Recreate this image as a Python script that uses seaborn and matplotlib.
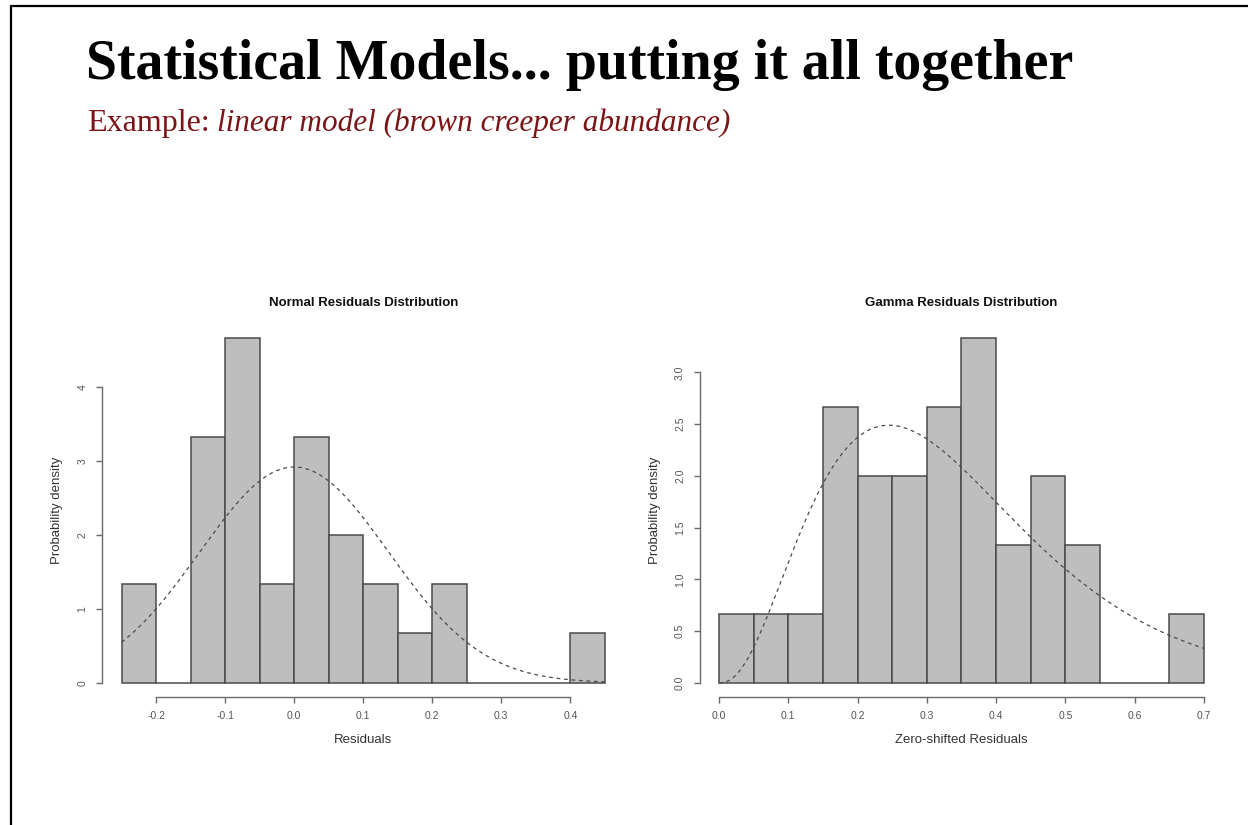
import math
import numpy as np
import pandas as pd
import matplotlib
matplotlib.use("Agg")
import matplotlib.pyplot as plt
import seaborn as sns
from matplotlib.lines import Line2D

# ---- data -------------------------------------------------------------
# Normal-model residuals: histogram bins and densities
normal_edges = [-0.25, -0.20, -0.15, -0.10, -0.05, 0.00, 0.05,
                0.10, 0.15, 0.20, 0.25, 0.30, 0.35, 0.40, 0.45]
normal_density = [1.333, 0.0, 3.333, 4.667, 1.333, 3.333, 2.0,
                  1.333, 0.667, 1.333, 0.0, 0.0, 0.0, 0.667]
normal_mean = 0.0
normal_sd = 0.1366
normal_xticks = [-0.2, -0.1, 0.0, 0.1, 0.2, 0.3, 0.4]
normal_xticklabels = ["-0.2", "-0.1", "0.0", "0.1", "0.2", "0.3", "0.4"]
normal_yticks = [0, 1, 2, 3, 4]
normal_yticklabels = ["0", "1", "2", "3", "4"]

# Zero-shifted residuals: histogram bins and densities, gamma fit
gamma_edges = [0.00, 0.05, 0.10, 0.15, 0.20, 0.25, 0.30, 0.35,
               0.40, 0.45, 0.50, 0.55, 0.60, 0.65, 0.70]
gamma_density = [0.667, 0.667, 0.667, 2.667, 2.0, 2.0, 2.667,
                 3.333, 1.333, 2.0, 1.333, 0.0, 0.0, 0.667]
gamma_shape = 3.5
gamma_rate = 10.2
gamma_xticks = [0.0, 0.1, 0.2, 0.3, 0.4, 0.5, 0.6, 0.7]
gamma_xticklabels = ["0.0", "0.1", "0.2", "0.3", "0.4", "0.5", "0.6", "0.7"]
gamma_yticks = [0.0, 0.5, 1.0, 1.5, 2.0, 2.5, 3.0]
gamma_yticklabels = ["0.0", "0.5", "1.0", "1.5", "2.0", "2.5", "3.0"]

slide_title = "Statistical Models... putting it all together"
subtitle_lead = "Example:"
subtitle_rest = "linear model (brown creeper abundance)"


def normal_pdf(x, mu, sd):
    return np.exp(-0.5 * ((x - mu) / sd) ** 2) / (sd * math.sqrt(2 * math.pi))


def gamma_pdf(x, k, rate):
    x = np.asarray(x, dtype=float)
    out = np.zeros_like(x)
    pos = x > 0
    out[pos] = np.exp(k * math.log(rate) + (k - 1) * np.log(x[pos])
                      - rate * x[pos] - math.lgamma(k))
    return out


# ---- style ------------------------------------------------------------
sns.set_style("white")
plt.rcParams["font.family"] = ["Liberation Sans", "DejaVu Sans"]
plt.rcParams["axes.unicode_minus"] = False

BAR = "#bebebe"
EDGE = "#4a4a4a"
AXC = "#6a6a6a"
TXT = "#555555"

fig = plt.figure(figsize=(12.48, 8.25), dpi=100)
fig.patch.set_facecolor("white")

W, H = 1248.0, 825.0
ax_l = fig.add_axes([102.2 / W, 1 - 696.5 / H, 522.0 / W, 372.3 / H])
ax_r = fig.add_axes([699.6 / W, 1 - 696.5 / H, 523.8 / W, 372.3 / H])


def r_hist(ax, edges, density, curve_x, curve_y, xticks, xlabels,
           yticks, ylabels, title, xlabel):
    edges = [float(e) for e in edges]
    mids = [(a + b) / 2 for a, b in zip(edges[:-1], edges[1:])]
    df = pd.DataFrame({"mid": mids, "density": density})
    sns.histplot(data=df, x="mid", weights="density", bins=edges, ax=ax,
                 color=BAR, edgecolor=EDGE, linewidth=1.1, alpha=1.0)
    ax.plot(curve_x, curve_y, color="#4a4a4a", lw=0.9,
            linestyle=(0, (3.0, 3.0)), zorder=5)

    # R-style 4% axis extension
    xr = edges[-1] - edges[0]
    ax.set_xlim(edges[0] - 0.04 * xr, edges[-1] + 0.04 * xr)
    ymax = max(density)
    ax.set_ylim(-0.04 * ymax, ymax * 1.04)

    for s in ("top", "right"):
        ax.spines[s].set_visible(False)
    for s in ("left", "bottom"):
        ax.spines[s].set_color(AXC)
        ax.spines[s].set_linewidth(1.0)
    ax.spines["bottom"].set_bounds(xticks[0], xticks[-1])
    ax.spines["left"].set_bounds(yticks[0], yticks[-1])

    ax.set_xticks(xticks)
    ax.set_xticklabels(xlabels)
    ax.set_yticks(yticks)
    ax.set_yticklabels(ylabels, rotation=90, va="center")
    ax.tick_params(axis="both", which="both", direction="out", length=4.5,
                   width=1.0, color=AXC, labelsize=7.5, labelcolor=TXT,
                   pad=6.0, bottom=True, left=True)

    ax.set_title(title, fontsize=9.5, fontweight="bold", color="#111111",
                 pad=13)
    ax.set_xlabel(xlabel, fontsize=9.5, color="#333333")
    ax.set_ylabel("Probability density", fontsize=9.5, color="#333333")
    ax.xaxis.set_label_coords(0.5, -0.117)
    ax.xaxis.label.set_va("center")
    ax.yaxis.set_label_coords(-0.086, 0.5)
    ax.yaxis.label.set_va("center")
    ax.set_facecolor("white")


xn = np.linspace(normal_edges[0], normal_edges[-1], 300)
r_hist(ax_l, normal_edges, normal_density, xn,
       normal_pdf(xn, normal_mean, normal_sd),
       normal_xticks, normal_xticklabels, normal_yticks, normal_yticklabels,
       "Normal Residuals Distribution", "Residuals")

xg = np.linspace(gamma_edges[0], gamma_edges[-1], 300)
r_hist(ax_r, gamma_edges, gamma_density, xg,
       gamma_pdf(xg, gamma_shape, gamma_rate),
       gamma_xticks, gamma_xticklabels, gamma_yticks, gamma_yticklabels,
       "Gamma Residuals Distribution", "Zero-shifted Residuals")

# ---- slide heading ----------------------------------------------------
fig.text(86 / W, 1 - 79 / H, slide_title, fontsize=40.2, fontweight="bold",
         family=["Liberation Serif", "DejaVu Serif"], color="black",
         ha="left", va="baseline")
RED = "#7b1416"
t1 = fig.text(87 / W, 1 - 131 / H, subtitle_lead, fontsize=23,
              family=["Liberation Serif", "DejaVu Serif"], color=RED,
              ha="left", va="baseline")
fig.canvas.draw()
bb = t1.get_window_extent(renderer=fig.canvas.get_renderer())
fig.text((bb.x1 + 7) / W, 1 - 131 / H, subtitle_rest, fontsize=22.5,
         style="italic", family=["Liberation Serif", "DejaVu Serif"],
         color=RED, ha="left", va="baseline")

# slide frame edges
fig.add_artist(Line2D([11 / W, 1.0], [1 - 6 / H, 1 - 6 / H],
                      transform=fig.transFigure, color="black", lw=1.6))
fig.add_artist(Line2D([11 / W, 11 / W], [0.0, 1 - 6 / H],
                      transform=fig.transFigure, color="black", lw=1.6))

fig.savefig("out.png", dpi=100, facecolor="white")
